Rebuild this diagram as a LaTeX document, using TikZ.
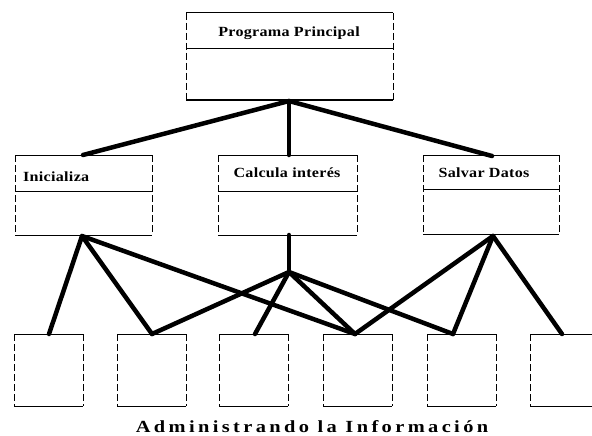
\documentclass[tikz,border=0pt]{standalone}
\usepackage{fontspec}
\setmainfont{Liberation Serif}
\newfontfamily\boxfont[FakeStretch=1.15,LetterSpace=2]{Liberation Serif}
\newfontfamily\capfont[FakeStretch=1.2,LetterSpace=20]{Liberation Serif}
\begin{document}
\begin{tikzpicture}[x=1pt,y=-1pt,
  conn/.style={line width=4.5pt, line cap=round, line join=round},
  edgeline/.style={line width=1pt},
  sideline/.style={line width=0.6pt, dash pattern=on 7pt off 3pt},
  part/.style={draw=none, inner sep=0pt, outer sep=0pt, anchor=north west},
  lbl/.style={inner sep=0pt, font=\boxfont\bfseries\fontsize{14}{16}\selectfont}]
\useasboundingbox (0,0) rectangle (592,436);

% class boxes: header and body parts
\node[part, minimum width=207pt, minimum height=36pt] (pph) at (186,13) {};
\node[part, minimum width=207pt, minimum height=51pt] (ppb) at (186,49) {};
\node[part, minimum width=137pt, minimum height=36pt] (inih) at (15,155) {};
\node[part, minimum width=137pt, minimum height=44pt] (inib) at (15,191) {};
\node[part, minimum width=139pt, minimum height=36pt] (calh) at (218,155) {};
\node[part, minimum width=139pt, minimum height=44pt] (calb) at (218,191) {};
\node[part, minimum width=136pt, minimum height=34pt] (salh) at (423,155) {};
\node[part, minimum width=136pt, minimum height=45pt] (salb) at (423,189) {};

\foreach \h/\b in {pph/ppb, inih/inib, calh/calb, salh/salb} {
  \draw[edgeline] (\h.north west) -- (\h.north east);
  \draw[edgeline] (\h.south west) -- (\h.south east);
  \draw[edgeline] (\b.south west) -- (\b.south east);
  \draw[sideline] (\h.north west) -- (\b.south west);
  \draw[sideline] (\h.north east) -- (\b.south east);
}

% labels
\node[lbl] (tpp) at (289,33) {Programa Principal};
\node[lbl, anchor=base west] (tini) at (23,181) {Inicializa};
\node[lbl] (tcal) at (287,173) {Calcula interés};
\node[lbl] (tsal) at (484,173) {Salvar Datos};

% bottom boxes
\foreach \n/\x in {b1/14, b2/117, b3/219, b4/323, b5/427, b6/530} {
  \node[part, minimum width=69pt, minimum height=72pt] (\n) at (\x,334) {};
  \draw[edgeline] (\n.north west) -- (\n.north east);
  \draw[edgeline] (\n.south west) -- (\n.south east);
  \draw[sideline] (\n.north west) -- (\n.south west);
  \draw[sideline] (\n.north east) -- (\n.south east);
}

% attachment points
\coordinate (ppapex) at (289,101);
\coordinate (iniin) at (83,155);
\coordinate (calin) at (289,155);
\coordinate (salin) at (492,156);
\coordinate (iniout) at (82,236);
\coordinate (calout) at (289,235);
\coordinate (calhub) at (289,272);
\coordinate (salout) at (493,236);
\coordinate (b1in) at (49,334);
\coordinate (b2in) at (152,334);
\coordinate (b3in) at (255,334);
\coordinate (b4in) at (355,334);
\coordinate (b5in) at (453,334);
\coordinate (b6in) at (562,334);

% connectors
\draw[conn] (iniin) -- (ppapex) -- (salin);
\draw[conn] (ppapex) -- (calin);
\draw[conn] (b1in) -- (iniout) -- (b2in);
\draw[conn] (iniout) -- (b4in);
\draw[conn] (calout) -- (calhub);
\foreach \t in {b2in, b3in, b4in, b5in} \draw[conn] (calhub) -- (\t);
\foreach \t in {b4in, b5in, b6in} \draw[conn] (salout) -- (\t);

% caption
\node[inner sep=0pt, anchor=base, font=\capfont\bfseries\fontsize{17}{19}\selectfont] (cap) at (312,432) {Administrando la Información};
\end{tikzpicture}
\end{document}
